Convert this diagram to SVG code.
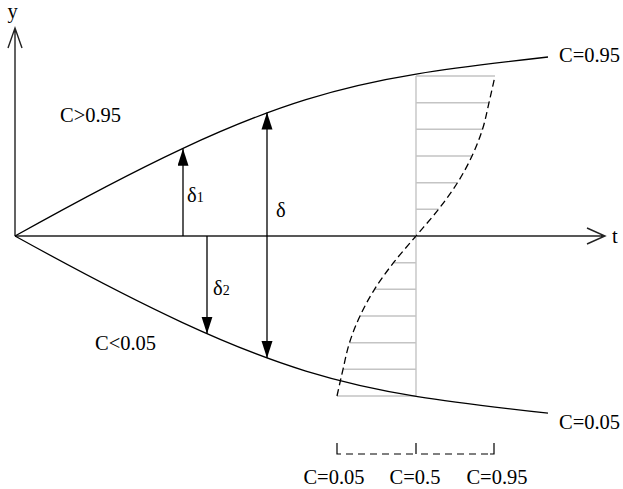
<svg xmlns="http://www.w3.org/2000/svg" width="623" height="489" viewBox="0 0 623 489">
<style>
text{font-family:"Liberation Serif","Times New Roman",serif;font-size:20.5px;fill:#000}
.ln{fill:none;stroke:#000;stroke-width:1.3}
.ax{fill:none;stroke:#222;stroke-width:1.4}
.gr{fill:none;stroke:#c4c4c4;stroke-width:1.4}
.ds{fill:none;stroke:#000;stroke-width:1.3;stroke-dasharray:7 4}
.br{fill:none;stroke:#000;stroke-width:1.2}
.bd{fill:none;stroke:#000;stroke-width:1.2;stroke-dasharray:7 5}
</style>
<defs>
<marker id="fa" markerWidth="18" markerHeight="12" refX="17" refY="5.5" orient="auto" markerUnits="userSpaceOnUse">
<path d="M0,0 L17,5.5 L0,11 Z" fill="#000"/>
</marker>
<marker id="fs" markerWidth="18" markerHeight="12" refX="0" refY="5.5" orient="auto" markerUnits="userSpaceOnUse">
<path d="M17,0 L0,5.5 L17,11 Z" fill="#000"/>
</marker>
</defs>

<g id="axes">
<path class="ax" d="M15,236 V28 M8,48 L15,28 L22,48"/>
<path class="ax" d="M15,236 H605 M587,228 L605,236 L587,244"/>
<text x="12.5" y="17.5" text-anchor="middle">y</text>
<text x="612" y="243">t</text>
</g>

<g id="profile">
<path class="gr" d="M416,76 V396"/>
<path class="gr" d="M416,76 H495 M416,102.7 H489 M416,129.3 H482.5 M416,156 H472 M416,182.7 H457.5 M416,209.3 H438.5 M416,262.7 H393.5 M416,289.3 H374.5 M416,316 H360 M416,342.7 H349.5 M416,369.3 H343 M416,396 H337"/>
<path class="ds" d="M337,396 C339,387.1 340.92,378.19 343,369.3 C345.08,360.41 346.67,351.59 349.5,342.7 C352.33,333.81 355.83,324.9 360,316 C364.17,307.1 368.92,298.19 374.5,289.3 C380.08,280.41 386.58,271.59 393.5,262.7 C400.42,253.81 408.5,244.9 416,236 C423.5,227.1 431.58,218.19 438.5,209.3 C445.42,200.41 451.92,191.59 457.5,182.7 C463.08,173.81 467.83,164.9 472,156 C476.17,147.1 479.67,138.19 482.5,129.3 C485.33,120.41 486.92,111.59 489,102.7 C491.08,93.81 493,84.9 495,76"/>
</g>

<g id="upper-curve">
<path class="ln" d="M15,236 C280,88 348,80 548,57"/>
<text x="559" y="62.3">C=0.95</text>
<text x="60" y="121.5">C&gt;0.95</text>
</g>

<g id="lower-curve">
<path class="ln" transform="matrix(1,0,0,-0.99,0,469.64)" d="M15,236 C280,88 348,80 548,57"/>
<text x="559" y="428.5">C=0.05</text>
<text x="95" y="349.5">C&lt;0.05</text>
</g>

<g id="connectors">
<line class="ln" x1="183" y1="236" x2="183" y2="148.8" marker-end="url(#fa)"/>
<line class="ln" x1="207" y1="236" x2="207" y2="333.7" marker-end="url(#fa)"/>
<line class="ln" x1="267" y1="112.5" x2="267" y2="358" marker-start="url(#fs)" marker-end="url(#fa)"/>
</g>

<g id="delta-labels">
<text x="187" y="202">δ<tspan font-size="14">1</tspan></text>
<text x="276" y="217">δ</text>
<text x="213" y="295">δ<tspan font-size="14">2</tspan></text>
</g>

<g id="scale">
<path class="br" d="M337,443 V454 H341 M416,443 V454 M494,443 V454 H490"/>
<path class="bd" d="M346,454 H416"/>
<path class="bd" d="M421,454 H490"/>
<text x="334" y="484" text-anchor="middle">C=0.05</text>
<text x="415" y="484" text-anchor="middle">C=0.5</text>
<text x="497" y="484" text-anchor="middle">C=0.95</text>
</g>
</svg>
